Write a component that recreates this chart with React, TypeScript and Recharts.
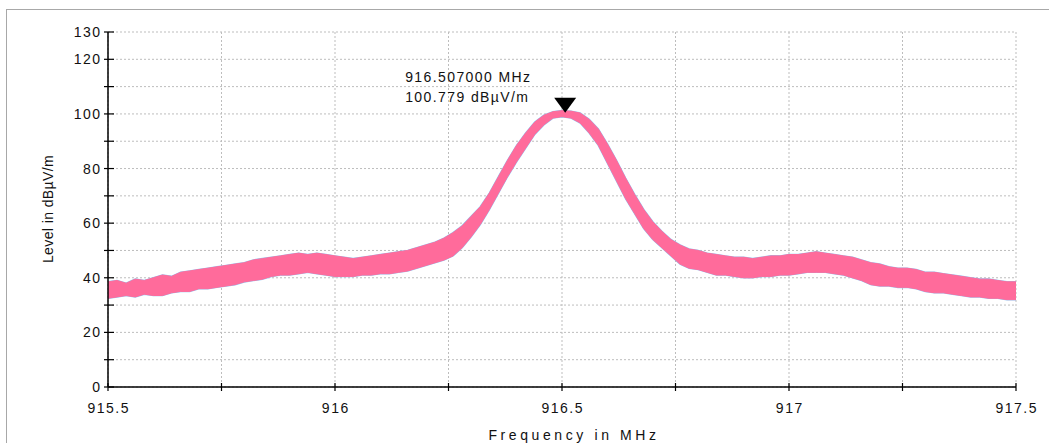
import React from "react";
import {
  ComposedChart,
  Area,
  XAxis,
  YAxis,
  CartesianGrid,
  ReferenceDot,
} from "recharts";

// sample frequencies in MHz
const FREQ = [
  915.5, 915.52, 915.54, 915.56, 915.58, 915.6, 915.62, 915.64, 915.66, 915.68,
  915.7, 915.72, 915.74, 915.76, 915.78, 915.8, 915.82, 915.84, 915.86, 915.88,
  915.9, 915.92, 915.94, 915.96, 915.98, 916.0, 916.02, 916.04, 916.06, 916.08,
  916.1, 916.12, 916.14, 916.16, 916.18, 916.2, 916.22, 916.24, 916.26, 916.28,
  916.3, 916.32, 916.34, 916.36, 916.38, 916.4, 916.42, 916.44, 916.46, 916.48,
  916.5, 916.52, 916.54, 916.56, 916.58, 916.6, 916.62, 916.64, 916.66, 916.68,
  916.7, 916.72, 916.74, 916.76, 916.78, 916.8, 916.82, 916.84, 916.86, 916.88,
  916.9, 916.92, 916.94, 916.96, 916.98, 917.0, 917.02, 917.04, 917.06, 917.08,
  917.1, 917.12, 917.14, 917.16, 917.18, 917.2, 917.22, 917.24, 917.26, 917.28,
  917.3, 917.32, 917.34, 917.36, 917.38, 917.4, 917.42, 917.44, 917.46, 917.48,
  917.5,
];

// upper edge of the trace band (dBµV/m)
const LEVEL_HI = [
  38.5, 39, 38, 39.5, 39, 40, 41, 40.5, 42, 42.5,
  43, 43.5, 44, 44.5, 45, 45.5, 46.5, 47, 47.5, 48,
  48.5, 49, 48.5, 49, 48.5, 48, 47.5, 47, 47.5, 48,
  48.5, 49, 49.5, 50, 51, 52, 53, 54.5, 56.5, 59,
  62.5, 66, 71, 77, 83, 88.5, 93, 97, 99.5, 100.8,
  101.2, 101, 100.3, 98, 94.5, 89, 83, 76.5, 70.5, 65,
  60.5, 57, 54, 52, 50.5, 50, 49, 48.5, 48, 47.5,
  47.5, 47, 47.5, 48, 48, 48.5, 48.5, 49, 49.5, 49,
  48.5, 48, 47.5, 46.5, 45.5, 45, 44, 43.5, 43.5, 43,
  42, 42, 41.5, 41, 40.5, 40, 39.5, 39.5, 39, 38.5,
  38.5,
];

// lower edge of the trace band (dBµV/m)
const LEVEL_LO = [
  32.5, 33, 33.5, 33, 34, 33.5, 33.5, 34.5, 35, 35,
  36, 36, 36.5, 37, 37.5, 38.5, 39, 39.5, 40.5, 41,
  41, 41.5, 42, 41.5, 41, 40.5, 40.5, 40.5, 41, 41,
  41.5, 41.5, 42, 42.5, 43.5, 44.5, 45.5, 46.5, 48, 51,
  55, 59.5, 65, 71, 77, 82.5, 87.5, 92.5, 96, 98.5,
  99, 98.5, 96.7, 93, 88.5, 82, 75.5, 69, 63.5, 58,
  54, 51, 48, 45, 43.5, 43, 42, 41, 41, 40.5,
  40, 40, 40.5, 40.5, 41, 41, 41.5, 42, 42, 42,
  41.5, 41, 40, 39, 37.5, 37, 37, 36.5, 36.5, 36,
  35, 34.5, 34.5, 34, 33.5, 33, 33, 32.5, 32.5, 32,
  32,
];

const X_TICKS = [915.5, 915.75, 916, 916.25, 916.5, 916.75, 917, 917.25, 917.5];
const X_LABELS = [915.5, 916, 916.5, 917, 917.5];
const Y_TICKS = [0, 10, 20, 30, 40, 50, 60, 70, 80, 90, 100, 110, 120, 130];
const Y_LABELS = [0, 20, 40, 60, 80, 100, 120, 130];

const MARKER_FREQ = 916.507;
const MARKER_LEVEL = 100.779;

const data = FREQ.map((f, i) => ({ f, band: [LEVEL_LO[i], LEVEL_HI[i]] }));

const FONT = "'Liberation Sans', Arial, sans-serif";

function XTick(props: any) {
  const { x, y, payload } = props;
  const show = X_LABELS.includes(payload.value);
  return (
    <g>
      <line x1={x} x2={x} y1={y - 4} y2={y + 4} stroke="#000" strokeWidth={1.2} />
      {show && (
        <text
          x={x + 0.8}
          y={y + 26}
          textAnchor="middle"
          fontSize={14}
          letterSpacing={1.5}
          fontFamily={FONT}
          fill="#111"
        >
          {payload.value}
        </text>
      )}
    </g>
  );
}

function YTick(props: any) {
  const { x, y, payload } = props;
  const show = Y_LABELS.includes(payload.value);
  return (
    <g>
      <line x1={x - 4} x2={x + 6} y1={y} y2={y} stroke="#000" strokeWidth={1.2} />
      {show && (
        <text
          x={x - 6.5}
          y={y + 5}
          textAnchor="end"
          fontSize={14}
          letterSpacing={1.5}
          fontFamily={FONT}
          fill="#111"
        >
          {payload.value}
        </text>
      )}
    </g>
  );
}

function Marker(props: any) {
  const { cx, cy } = props;
  return (
    <g>
      <polygon
        points={`${cx - 11},${cy - 14} ${cx + 11},${cy - 14} ${cx},${cy + 1}`}
        fill="#000"
      />
      <text x={cx - 160} y={cy - 30} fontSize={14} letterSpacing={1.4} fontFamily={FONT} fill="#111">
        {MARKER_FREQ.toFixed(6)} MHz
      </text>
      <text x={cx - 160} y={cy - 10} fontSize={14} letterSpacing={1.4} fontFamily={FONT} fill="#111">
        {MARKER_LEVEL.toFixed(3)} dBµV/m
      </text>
    </g>
  );
}

export default function App() {
  return (
    <div style={{ position: "fixed", left: 0, top: 0, width: 1049, height: 443, background: "#fff" }}>
      <div
        style={{
          position: "absolute",
          left: 6,
          top: 9,
          width: 1049,
          height: 443,
          borderLeft: "1px solid #a8a8a8",
          borderTop: "1px solid #a8a8a8",
        }}
      />
      <div style={{ position: "absolute", left: 0, top: 0 }}>
        <ComposedChart
          width={1049}
          height={443}
          data={data}
          margin={{ top: 32, right: 33, bottom: 0, left: 0 }}
        >
          <CartesianGrid stroke="#bdbdbd" strokeDasharray="2 2" />
          <XAxis
            dataKey="f"
            type="number"
            domain={[915.5, 917.5]}
            ticks={X_TICKS}
            interval={0}
            height={56}
            tickSize={0}
            tickMargin={0}
            tickLine={false}
            axisLine={{ stroke: "#000", strokeWidth: 1.5 }}
            tick={<XTick />}
            allowDataOverflow
          />
          <YAxis
            type="number"
            domain={[0, 130]}
            ticks={Y_TICKS}
            interval={0}
            width={108}
            tickSize={0}
            tickMargin={0}
            tickLine={false}
            axisLine={{ stroke: "#000", strokeWidth: 1.5 }}
            tick={<YTick />}
          />
          <Area
            dataKey="band"
            type="linear"
            stroke="#8ec9f5"
            strokeWidth={1.6}
            fill="none"
            isAnimationActive={false}
            dot={false}
            activeDot={false}
          />
          <Area
            dataKey="band"
            type="linear"
            stroke="#ff6b9b"
            strokeWidth={1}
            fill="#ff6b9b"
            fillOpacity={1}
            isAnimationActive={false}
            dot={false}
            activeDot={false}
          />
          <ReferenceDot
            x={MARKER_FREQ}
            y={MARKER_LEVEL}
            ifOverflow="visible"
            shape={<Marker />}
          />
        </ComposedChart>
      </div>
      <svg
        width={1049}
        height={443}
        style={{ position: "absolute", left: 0, top: 0, pointerEvents: "none" }}
      >
        <text
          x={574}
          y={440}
          textAnchor="middle"
          fontSize={14}
          letterSpacing={3.6}
          fontFamily={FONT}
          fill="#111"
        >
          Frequency in MHz
        </text>
        <text
          transform="translate(53,209) rotate(-90)"
          textAnchor="middle"
          fontSize={14}
          letterSpacing={0.4}
          fontFamily={FONT}
          fill="#111"
        >
          Level in dBµV/m
        </text>
      </svg>
    </div>
  );
}
